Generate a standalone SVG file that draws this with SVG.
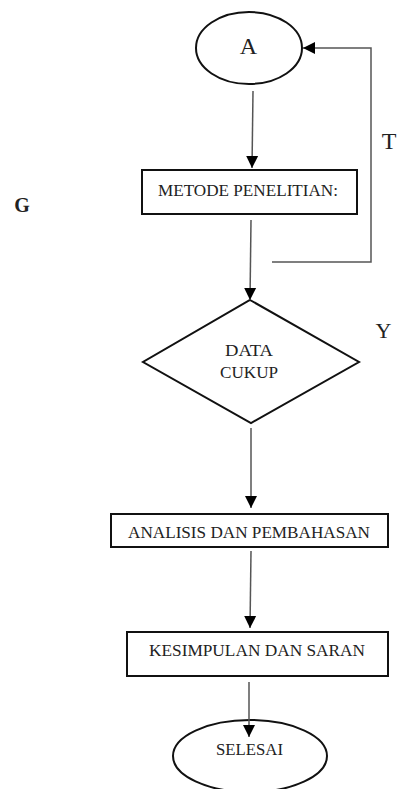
<svg xmlns="http://www.w3.org/2000/svg" width="398" height="789" viewBox="0 0 398 789">
<style>
.shape{fill:#fff;stroke:#111;stroke-width:2}
.conn{fill:none;stroke:#555;stroke-width:1.5}
.t{font-family:"Liberation Serif","Times New Roman",serif;fill:#222;text-anchor:middle}
.lbl{font-size:16px}
</style>
<defs>
<marker id="ahb" viewBox="0 0 12 12" refX="12" refY="6" markerWidth="12" markerHeight="14" markerUnits="userSpaceOnUse" orient="auto">
<path d="M0,0 L12,6 L0,12 Z" fill="#000"/>
</marker>
</defs>
<g id="node-a">
<ellipse class="shape" cx="249" cy="48" rx="53" ry="36"/>
<text class="t" x="248.5" y="54" font-size="24">A</text>
</g>
<g id="node-metode">
<rect class="shape" x="142" y="170" width="215" height="44"/>
<text class="t lbl" x="248" y="196" textLength="180" lengthAdjust="spacingAndGlyphs">METODE PENELITIAN:</text>
</g>
<g id="node-data">
<polygon class="shape" points="250,300 359,362 251,423 143,362"/>
<text class="t lbl" x="249" y="356" textLength="48" lengthAdjust="spacingAndGlyphs">DATA</text>
<text class="t lbl" x="249" y="378" textLength="58" lengthAdjust="spacingAndGlyphs">CUKUP</text>
</g>
<g id="node-analisis">
<rect class="shape" x="111" y="514" width="277" height="33"/>
<text class="t lbl" x="249" y="538" textLength="242" lengthAdjust="spacingAndGlyphs">ANALISIS DAN PEMBAHASAN</text>
</g>
<g id="node-kesimpulan">
<rect class="shape" x="127" y="632" width="261" height="44"/>
<text class="t lbl" x="257" y="656" font-size="17" textLength="216" lengthAdjust="spacingAndGlyphs">KESIMPULAN DAN SARAN</text>
</g>
<g id="node-selesai">
<ellipse class="shape" cx="250" cy="756" rx="77" ry="36"/>
<text class="t" x="249.5" y="755" font-size="17" textLength="67" lengthAdjust="spacingAndGlyphs">SELESAI</text>
</g>
<g id="connectors">
<path class="conn" d="M253,91 L252,168" marker-end="url(#ahb)"/>
<path class="conn" d="M251,220 L250,300" marker-end="url(#ahb)"/>
<path class="conn" d="M272,262 L371,262 L371,48 L303,48" marker-end="url(#ahb)"/>
<path class="conn" d="M251,428 L251,508" marker-end="url(#ahb)"/>
<path class="conn" d="M251,551 L250,628" marker-end="url(#ahb)"/>
<path class="conn" d="M249,682 L249,737" marker-end="url(#ahb)"/>
</g>
<g id="labels">
<text class="t" x="389" y="149" font-size="24">T</text>
<text class="t" x="383.5" y="338" font-size="22">Y</text>
<text class="t" x="22" y="212" font-size="20" font-weight="bold">G</text>
</g>
</svg>
